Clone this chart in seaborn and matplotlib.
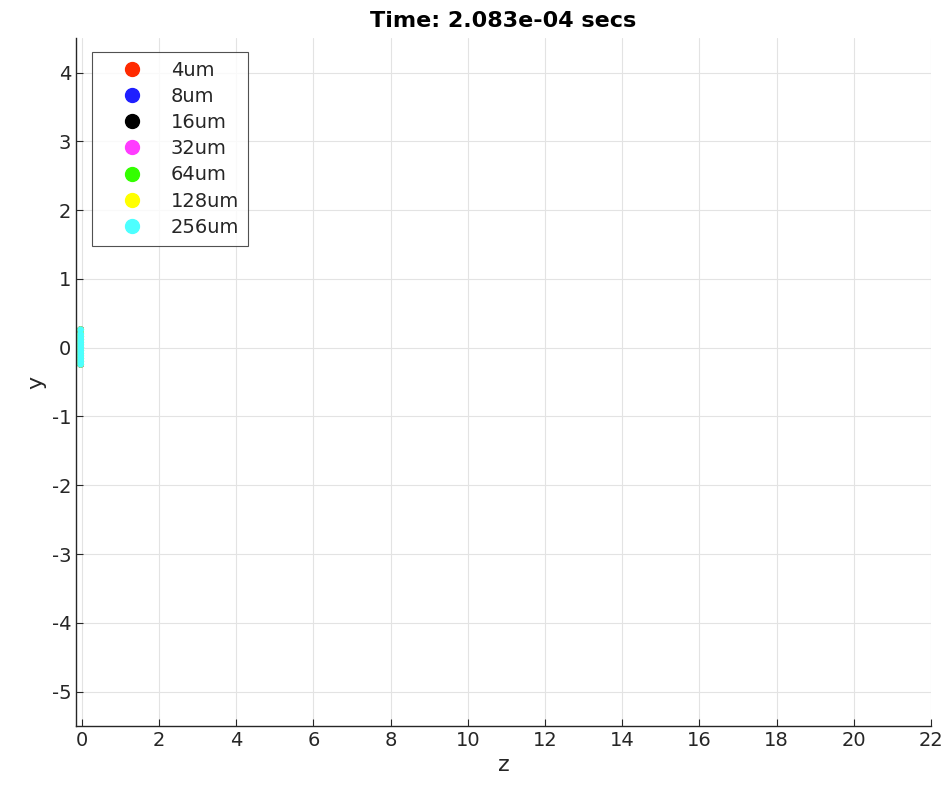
import numpy as np
import pandas as pd
import seaborn as sns
import matplotlib.pyplot as plt
from matplotlib.lines import Line2D

# particle sizes and colours
sizes = ["4um", "8um", "16um", "32um", "64um", "128um", "256um"]
colors = ["#ff2a00", "#1f1fff", "#000000", "#ff3cff", "#33ff00", "#ffff00", "#4dffff"]

# particle positions at this time step (all sizes still at the inlet)
z_pos = [-0.03, -0.03, -0.03, -0.03, -0.03, -0.03, -0.03, -0.03, -0.03, -0.03, -0.03, -0.03, -0.03]
y_pos = [-0.24, -0.20, -0.16, -0.12, -0.08, -0.04, 0.0, 0.04, 0.08, 0.12, 0.16, 0.20, 0.26]

rows = []
for s in sizes:
    for z, y in zip(z_pos, y_pos):
        rows.append({"z": z, "y": y, "size": s})
df = pd.DataFrame(rows)

sns.set_style("whitegrid")
plt.rcParams['font.family'] = ['DejaVu Sans']
plt.rcParams['axes.unicode_minus'] = False

fig = plt.figure(figsize=(9.5, 7.95), dpi=100)
ax = fig.add_axes([0.08, 0.0868, 0.9, 0.8652])

sns.scatterplot(data=df, x="z", y="y", hue="size", hue_order=sizes,
                palette=colors, s=24, linewidth=0, legend=False, ax=ax)

ax.set_xlim(-0.15, 22)
ax.set_ylim(-5.5, 4.5)
ax.set_xticks(range(0, 23, 2))
ax.set_yticks(range(-5, 5))
ax.grid(True, color="#e3e3e3", linewidth=0.8)
for side in ["top", "right"]:
    ax.spines[side].set_visible(False)
for side in ["left", "bottom"]:
    ax.spines[side].set_color("#262626")
    ax.spines[side].set_linewidth(1.0)
ax.tick_params(direction="in", length=5, colors="#262626", labelsize=14,
               left=True, bottom=True)
ax.set_xlabel("z", fontsize=16, color="#262626")
ax.set_ylabel("y", fontsize=16, color="#262626")
ax.set_title("Time: 2.083e-04 secs", fontsize=16, fontweight="bold", pad=8, color="black")

handles = [Line2D([0], [0], marker="o", color="none", markerfacecolor=c,
                  markeredgecolor=c, markersize=10, label=s)
           for s, c in zip(sizes, colors)]
leg = ax.legend(handles=handles, loc="upper left", bbox_to_anchor=(0.019, 0.98),
                borderaxespad=0, fontsize=14, frameon=True, fancybox=False,
                handlelength=3.2, handletextpad=0.4, labelspacing=0.37, borderpad=0.45)
leg.get_frame().set_edgecolor("#262626")
leg.get_frame().set_linewidth(0.8)
for t in leg.get_texts():
    t.set_color("#262626")

fig.savefig("out.png", dpi=100)
